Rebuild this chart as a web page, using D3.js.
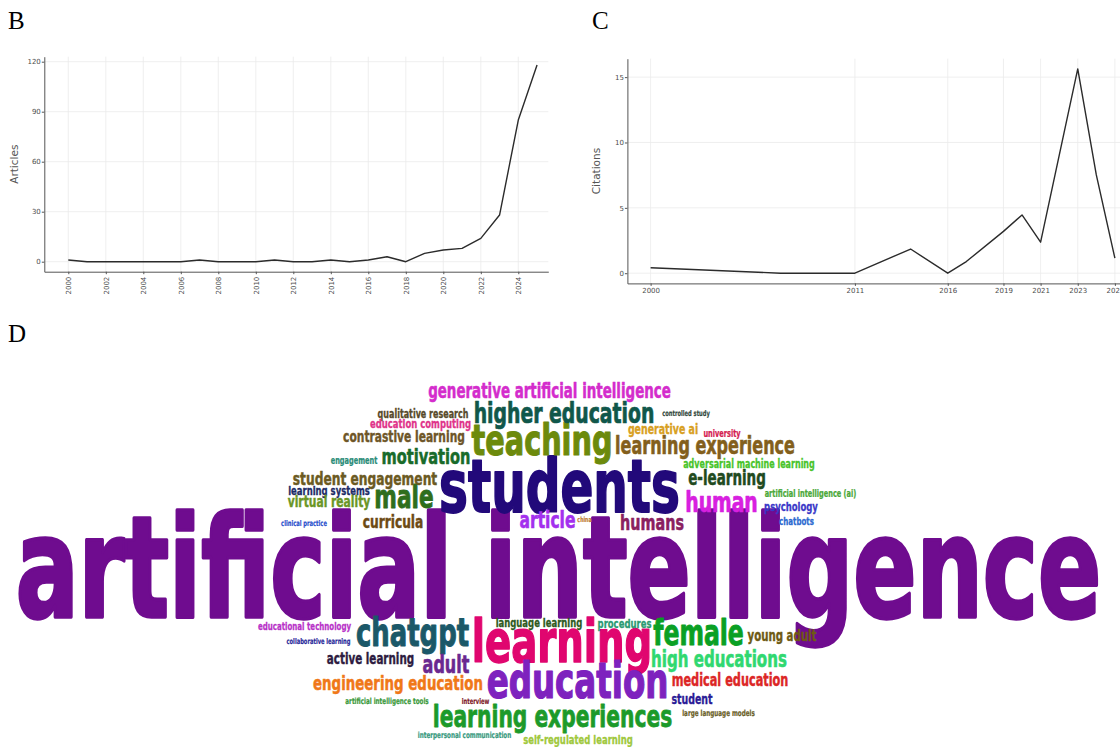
<!DOCTYPE html>
<html>
<head>
<meta charset="utf-8">
<script src="https://cdn.jsdelivr.net/npm/d3@7/dist/d3.min.js"></script>
<style>
  html, body { margin: 0; padding: 0; background: #fff; }
  svg { display: block; }
  .tick text { font-family: "DejaVu Sans", sans-serif; fill: #4d4d4d; }
</style>
</head>
<body>
<svg id="fig" width="1120" height="747"></svg>
<script>
// ---- Panel B: annual scientific production ----
const articleYears = [2000, 2001, 2002, 2003, 2004, 2005, 2006, 2007, 2008, 2009, 2010, 2011, 2012,
  2013, 2014, 2015, 2016, 2017, 2018, 2019, 2020, 2021, 2022, 2023, 2024, 2025];
const articleCounts = [1, 0, 0, 0, 0, 0, 0, 1, 0, 0, 0, 1, 0,
  0, 1, 0, 1, 3, 0, 5, 7, 8, 14, 28, 85, 118];
const articleXTicks = [2000, 2002, 2004, 2006, 2008, 2010, 2012, 2014, 2016, 2018, 2020, 2022, 2024];
const articleYTicks = [0, 30, 60, 90, 120];

// ---- Panel C: average citations per year ----
const citationYears = [2000, 2007, 2011, 2014, 2016, 2017, 2019, 2020, 2021, 2023, 2024, 2025];
const citationValues = [0.42, 0, 0, 1.85, 0, 0.89, 3.2, 4.46, 2.37, 15.63, 7.52, 1.15];
const citationXTicks = [2000, 2011, 2016, 2019, 2021, 2023, 2025];
const citationYTicks = [0, 5, 10, 15];

// ---- Panel D: keyword cloud ----
const keywords = [
  "artificial intelligence", "students", "learning", "education", "teaching",
  "higher education", "generative artificial intelligence", "learning experience", "motivation", "male",
  "student engagement", "contrastive learning", "qualitative research", "education computing", "engagement",
  "learning systems", "virtual reality", "clinical practice", "curricula", "article",
  "china", "humans", "human", "e-learning", "adversarial machine learning",
  "artificial intelligence (ai)", "psychology", "chatbots", "generative ai", "university",
  "controlled study", "chatgpt", "educational technology", "collaborative learning", "active learning",
  "adult", "engineering education", "artificial intelligence tools", "interview", "learning experiences",
  "interpersonal communication", "self-regulated learning", "language learning", "procedures", "female",
  "young adult", "high educations", "medical education", "student", "large language models"
];
const keywordFreq = [
  198, 103, 82, 69, 61,
  40, 28.5, 34, 31, 46,
  26, 22.7, 17, 18, 14,
  18, 22.8, 11, 26, 33,
  10, 30.5, 40, 28.6, 17,
  14, 18, 15, 20, 14,
  11, 55, 15, 11, 22,
  34, 28.4, 12, 11, 43,
  12, 18, 18, 18, 50,
  21.7, 32, 24, 20, 12
];
// word placements produced by the cloud layout (offsets from the cloud centre)
const cloudPlacement = [
  [0, 50], [1, -55], [3.5, 95], [19, 131], [-16.5, -112],
  [5.5, -144], [-9, -169], [146.5, -113], [-132.5, -103], [-154.5, -59],
  [-193.5, -82], [-154.5, -125], [-135.5, -149], [-138, -139], [-204.5, -103],
  [-229.5, -72], [-229.5, -60], [-254.5, -41], [-165.5, -39], [-11, -39],
  [26, -45], [93.5, -37], [163, -55], [168.5, -82], [190.5, -99],
  [252, -70], [232.5, -56], [238, -42], [104.5, -133], [163.5, -130],
  [127.5, -151], [-146, 79], [-254, 63], [-240, 77], [-188, 97],
  [-112.5, 106], [-160.5, 123], [-171.5, 137], [-83, 137], [-6, 160],
  [-94, 171], [19.5, 177], [-19.5, 60], [66, 61], [140, 78],
  [223.5, 74], [160.5, 100], [171.5, 119], [133.5, 137], [160, 149]
];
const keywordColors = [
  "#6f0c8f", "#22097a", "#e0066f", "#7e22be", "#6c8a0c",
  "#10574a", "#d42ccc", "#835f1c", "#186b2a", "#2f6e1c",
  "#6b5a22", "#6e5628", "#574a2a", "#e0338a", "#2a8c78",
  "#1c2b66", "#6a9626", "#2a50cc", "#6d4a14", "#a330ee",
  "#c07a30", "#8a2060", "#d820e0", "#1f4a1e", "#48c42a",
  "#4aa838", "#3a38c8", "#2c6ad0", "#d8a022", "#d42050",
  "#344a40", "#1b5868", "#b832c8", "#2a2a9a", "#2d1b40",
  "#6a2890", "#f07818", "#3c9a3c", "#801828", "#1c9a2a",
  "#3a9a80", "#a0c83c", "#2e5a1e", "#2a9a72", "#0aa024",
  "#6e5a14", "#30d870", "#dc2626", "#2a1a96", "#6a6028"
];

const svg = d3.select("#fig");

// panel letters
const letters = [["B", 8, 29], ["C", 592, 29], ["D", 8, 342]];
svg.selectAll("text.panel-letter").data(letters).join("text")
  .attr("class", "panel-letter")
  .attr("x", d => d[1])
  .attr("y", d => d[2])
  .attr("font-family", "'Liberation Serif', 'DejaVu Serif', serif")
  .attr("font-size", 25)
  .attr("fill", "#000")
  .text(d => d[0]);

// shared line-chart drawer in a minimal ggplot-like theme
function linePanel(opts) {
  const g = svg.append("g");
  const x = d3.scaleLinear().domain(opts.xDomain).range(opts.xRange);
  const y = d3.scaleLinear().domain(opts.yDomain).range(opts.yRange);
  const [x0, x1] = opts.xRange;
  const [yb, yt] = opts.yRange;

  // grid
  g.append("g").selectAll("line").data(opts.yTicks).join("line")
    .attr("x1", x0).attr("x2", x1)
    .attr("y1", d => y(d)).attr("y2", d => y(d))
    .attr("stroke", "#ebebeb").attr("stroke-width", 0.8);
  g.append("g").selectAll("line").data(opts.xTicks).join("line")
    .attr("x1", d => x(d)).attr("x2", d => x(d))
    .attr("y1", yt).attr("y2", yb)
    .attr("stroke", "#ebebeb").attr("stroke-width", 0.8);

  // data line
  g.append("path")
    .datum(opts.years.map((yr, i) => [yr, opts.values[i]]))
    .attr("fill", "none")
    .attr("stroke", "#2b2b2b")
    .attr("stroke-width", 1.4)
    .attr("stroke-linejoin", "round")
    .attr("d", d3.line().x(d => x(d[0])).y(d => y(d[1])));

  // axes
  const xAxis = g.append("g").attr("transform", `translate(0,${yb})`)
    .call(d3.axisBottom(x).tickValues(opts.xTicks).tickFormat(d3.format("d")).tickSize(2.5).tickSizeOuter(0));
  const yAxis = g.append("g").attr("transform", `translate(${x0},0)`)
    .call(d3.axisLeft(y).tickValues(opts.yTicks).tickSize(2.5).tickSizeOuter(0));
  [xAxis, yAxis].forEach(a => {
    a.select(".domain").attr("stroke", "#555").attr("stroke-width", 1);
    a.selectAll(".tick line").attr("stroke", "#555");
    a.selectAll(".tick text").attr("font-size", 7).attr("fill", "#5a5a5a");
  });
  yAxis.selectAll(".tick text").attr("x", -3.5);
  if (opts.rotateX) {
    xAxis.selectAll(".tick text")
      .attr("transform", "rotate(-90)")
      .attr("text-anchor", "end")
      .attr("x", -5).attr("y", 0).attr("dy", "0.32em");
  } else {
    xAxis.selectAll(".tick text").attr("y", 5).attr("dy", "0.71em");
  }

  svg.append("text")
    .attr("transform", `translate(${opts.titleX},${(yb + yt) / 2}) rotate(-90)`)
    .attr("text-anchor", "middle")
    .attr("font-family", "'DejaVu Sans', sans-serif")
    .attr("font-size", 10.5)
    .attr("fill", "#555")
    .text(opts.title);
}

linePanel({
  years: articleYears, values: articleCounts,
  xDomain: [1998.72, 2025.6], xRange: [44.3, 548.3],
  yDomain: [-6, 123], yRange: [271.7, 56.7],
  xTicks: articleXTicks, yTicks: articleYTicks,
  rotateX: true, title: "Articles", titleX: 18
});

linePanel({
  years: citationYears, values: citationValues,
  xDomain: [1998.75, 2026.25], xRange: [627.4, 1138.1],
  yDomain: [-0.78, 16.41], yRange: [283.4, 58.7],
  xTicks: citationXTicks, yTicks: citationYTicks,
  rotateX: false, title: "Citations", titleX: 600
});

// ---- word cloud ----
const cloudCx = 558.5, cloudCy = 567;
const cloudX = d3.scaleLinear().domain([-560, 560]).range([cloudCx - 560, cloudCx + 560]);
const cloudY = d3.scaleLinear().domain([-190, 190]).range([cloudCy - 190, cloudCy + 190]);
const fontSize = d3.scaleLinear().domain([0, d3.max(keywordFreq)]).range([0, 141]);
const CONDENSE = 0.735; // horizontal squeeze for a compact, poster-like face

const words = keywords.map((k, i) => ({
  text: k, freq: keywordFreq[i], pos: cloudPlacement[i], color: keywordColors[i]
}));

svg.append("g").attr("class", "cloud")
  .selectAll("g").data(words).join("g")
  .attr("transform", d => `translate(${cloudX(d.pos[0])},${cloudY(d.pos[1])}) scale(${CONDENSE},1)`)
  .append("text")
  .attr("text-anchor", "middle")
  .attr("font-family", "'DejaVu Sans Condensed', 'DejaVu Sans', sans-serif")
  .attr("font-weight", "bold")
  .attr("font-size", d => fontSize(d.freq))
  .attr("fill", d => d.color)
  .attr("stroke", d => d.color)
  .attr("stroke-width", d => fontSize(d.freq) * 0.025)
  .attr("stroke-linejoin", "round")
  .text(d => d.text);
</script>
</body>
</html>
